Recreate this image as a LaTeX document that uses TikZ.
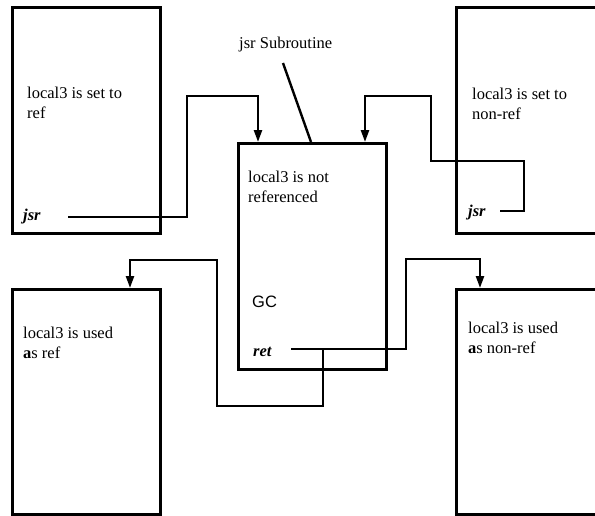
\documentclass[tikz,border=0pt]{standalone}
\usepackage{fontspec}
\setmainfont{Liberation Serif}
\newfontfamily\gcfont{Liberation Sans}
\usetikzlibrary{arrows.meta,calc}
\tikzset{
  block/.style={draw, line width=2.6pt, rectangle, inner sep=0pt, anchor=north west},
  lbl/.style={inner sep=0pt, anchor=base west, align=left,
              font=\fontsize{16.5}{20}\selectfont},
  wire/.style={line width=2.4pt},
  flow/.style={wire, -{Triangle[length=12pt,width=8pt]}},
}
\begin{document}
\begin{tikzpicture}[x=1pt,y=-1pt]
  \useasboundingbox (0,0) rectangle (595,515);
  \clip (0,0) rectangle (595,515);

  % the five blocks (the right-hand ones run off the page)
  \node[block, minimum width=148pt, minimum height=226pt] (setref)  at (11,6)   {};
  \node[block, minimum width=160pt, minimum height=226pt] (setnon)  at (455,6)  {};
  \node[block, minimum width=148pt, minimum height=226pt] (sub)     at (237,142) {};
  \node[block, minimum width=148pt, minimum height=225pt] (useref)  at (11,288)  {};
  \node[block, minimum width=160pt, minimum height=225pt] (usenon)  at (455,288) {};

  % texts (two-line labels are placed by their last baseline)
  \node[lbl] (t1) at (27,118)  {local3 is set to\\ref};
  \node[lbl] (t2) at (472,119) {local3 is set to\\non-ref};
  \node[lbl] (t3) at (248,202) {local3 is not\\referenced};
  \node[lbl] (t4) at (23,358) {local3 is used\\\textbf{a}s ref};
  \node[lbl] (t5) at (468,353) {local3 is used\\\textbf{a}s non-ref};
  \node[lbl, font=\gcfont\fontsize{16.5}{20}\selectfont] (gc) at (252,307) {GC};
  \node[lbl] (jsrL) at (23,220) {\textbf{\textit{jsr}}};
  \node[lbl] (jsrR) at (468,216) {\textbf{\textit{jsr}}};
  \node[lbl] (ret)  at (253,356) {\textbf{\textit{ret}}};
  \node[lbl] (title) at (239,48) {jsr Subroutine};

  % connector end points
  \coordinate (jsrLout) at (68,217);
  \coordinate (jsrRout) at (500,211);
  \coordinate (retout)  at (291,349);
  \coordinate (split)   at (323,349);
  \coordinate (tick)    at (283,63);

  % pointer from the title to the subroutine block
  \draw[wire] (tick) -- (sub.north west -| 311,0);

  % calls into the subroutine
  \draw[flow] (jsrLout) -- (187,217) -- (187,96) -- (258,96) -- (sub.north west -| 258,0);
  \draw[flow] (jsrRout) -- (524,211) -- (524,161) -- (431,161) -- (431,96)
              -- (365,96) -- (sub.north west -| 365,0);

  % returns to the callers
  \draw[flow] (retout) -- (406,349) -- (406,259) -- (480,259) -- (usenon.north west -| 480,0);
  \draw[flow] (split) -- (323,406) -- (217,406) -- (217,260) -- (130,260)
              -- (useref.north west -| 130,0);
\end{tikzpicture}
\end{document}
